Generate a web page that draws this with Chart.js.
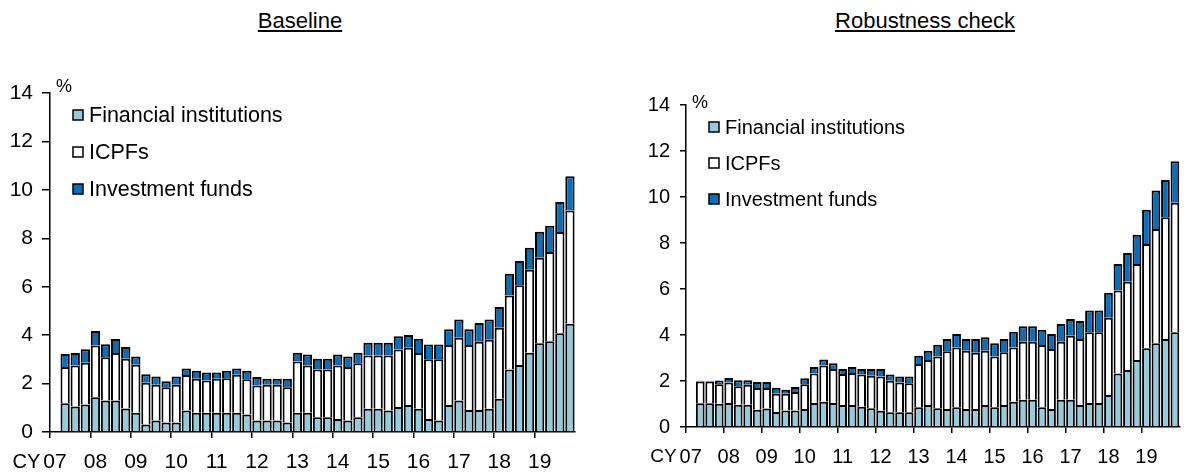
<!DOCTYPE html>
<html>
<head>
<meta charset="utf-8">
<script src="https://cdn.jsdelivr.net/npm/chart.js@4.4.1/dist/chart.umd.min.js"></script>
<style>
  body { margin: 0; background: #fff; font-family: "Liberation Sans", Arial, sans-serif; }
  .wrap { position: relative; width: 1187px; height: 475px; overflow: hidden; }
  .title { position: absolute; top: 8px; font-size: 22px; text-decoration: underline; transform: translateX(-50%); white-space: nowrap; color: #000; }
  canvas { position: absolute; top: 0; }
</style>
</head>
<body>
<div class="wrap">
  <div class="title" style="left:300px">Baseline</div>
  <div class="title" style="left:925px">Robustness check</div>
  <canvas id="left" width="600" height="475" style="left:0"></canvas>
  <canvas id="right" width="587" height="475" style="left:600px"></canvas>
</div>
<script>
// quarterly, 2007Q1 - 2019Q4 (first quarter has no data)
const yearLabels = ['07', '08', '09', '10', '11', '12', '13', '14', '15', '16', '17', '18', '19'];
const quarters = [];
yearLabels.forEach(y => ['Q1', 'Q2', 'Q3', 'Q4'].forEach(q => quarters.push(y + q)));

const seriesNames = ['Financial institutions', 'ICPFs', 'Investment funds'];

// Baseline
const baseFin = [null, 1.19, 1.05, 1.14,
  1.44, 1.30, 1.30, 0.97,  0.79, 0.31, 0.48, 0.39,  0.39, 0.89, 0.79, 0.79,
  0.79, 0.79, 0.79, 0.72,  0.48, 0.48, 0.48, 0.39,  0.79, 0.79, 0.61, 0.61,
  0.54, 0.48, 0.61, 0.96,  0.96, 0.89, 1.03, 1.11,  0.96, 0.54, 0.48, 1.11,
  1.30, 0.91, 0.91, 0.96,  1.37, 2.58, 2.77, 3.27,  3.67, 3.75, 4.08, 4.47];
const baseIcpf = [null, 1.49, 1.70, 1.72,
  2.13, 1.79, 1.96, 2.05,  1.99, 1.72, 1.47, 1.46,  1.56, 1.46, 1.41, 1.34,
  1.41, 1.43, 1.57, 1.46,  1.44, 1.47, 1.47, 1.46,  2.12, 1.96, 1.97, 1.97,
  2.21, 2.20, 2.23, 2.20,  2.20, 2.27, 2.38, 2.37,  2.30, 2.46, 2.52, 2.48,
  2.59, 2.68, 2.82, 2.85,  2.94, 3.06, 3.29, 3.43,  3.53, 3.68, 4.18, 4.68];
const baseInv = [null, 0.54, 0.51, 0.56,
  0.60, 0.53, 0.58, 0.49,  0.34, 0.35, 0.34, 0.25,  0.34, 0.27, 0.33, 0.33,
  0.26, 0.31, 0.26, 0.35,  0.35, 0.25, 0.25, 0.35,  0.36, 0.45, 0.44, 0.44,
  0.45, 0.44, 0.43, 0.53,  0.53, 0.53, 0.54, 0.53,  0.59, 0.61, 0.61, 0.65,
  0.76, 0.65, 0.77, 0.84,  0.85, 0.90, 1.00, 0.91,  1.07, 1.09, 1.24, 1.41];

// Robustness check
const robFin = [null, 1.03, 1.03, 1.01,
  1.04, 0.97, 0.97, 0.75,  0.80, 0.65, 0.72, 0.72,  0.78, 1.04, 1.10, 1.04,
  0.96, 0.96, 0.88, 0.81,  0.71, 0.64, 0.64, 0.64,  0.86, 0.96, 0.81, 0.78,
  0.86, 0.78, 0.78, 0.96,  0.86, 0.96, 1.10, 1.19,  1.19, 0.86, 0.78, 1.19,
  1.19, 0.96, 1.04, 1.04,  1.39, 2.33, 2.48, 2.91,  3.42, 3.64, 3.83, 4.12];
const robIcpf = [null, 0.95, 0.95, 0.85,
  0.89, 0.80, 0.87, 0.95,  0.90, 0.80, 0.73, 0.80,  1.08, 1.29, 1.57, 1.48,
  1.34, 1.39, 1.40, 1.42,  1.49, 1.37, 1.30, 1.26,  1.88, 1.95, 2.25, 2.51,
  2.60, 2.54, 2.45, 2.36,  2.20, 2.29, 2.36, 2.52,  2.52, 2.71, 2.61, 2.52,
  2.78, 2.87, 3.08, 3.08,  3.36, 3.60, 3.84, 4.18,  4.54, 4.97, 5.29, 5.63];
const robInv = [null, 0.03, 0.03, 0.16,
  0.20, 0.26, 0.19, 0.26,  0.26, 0.26, 0.17, 0.22,  0.26, 0.28, 0.26, 0.25,
  0.22, 0.26, 0.24, 0.29,  0.32, 0.27, 0.26, 0.30,  0.36, 0.41, 0.52, 0.54,
  0.58, 0.51, 0.60, 0.58,  0.58, 0.58, 0.68, 0.67,  0.67, 0.66, 0.65, 0.77,
  0.73, 0.78, 0.94, 0.94,  1.09, 1.16, 1.25, 1.27,  1.49, 1.67, 1.62, 1.80];

const FONT = '"Liberation Sans", Arial, sans-serif';
const colors = ['#93CDDD', '#FFFFFF', '#0070C0'];

function makeChart(id, fin, icpf, inv, cfg) {
  const extras = {
    id: 'extras',
    afterDraw(chart) {
      const ctx = chart.ctx;
      const area = chart.chartArea;
      const x = chart.scales.x;
      ctx.save();
      ctx.fillStyle = '#000';
      ctx.textBaseline = 'middle';

      // unit
      ctx.font = cfg.pctSize + 'px ' + FONT;
      ctx.textAlign = 'left';
      ctx.fillText('%', area.left + 6, area.top - cfg.pctUp);

      // CY before the first year label
      ctx.font = cfg.fontSize + 'px ' + FONT;
      const first = x.getPixelForValue(0);
      const half = ctx.measureText(yearLabels[0]).width / 2;
      ctx.font = (cfg.fontSize - 1) + 'px ' + FONT;
      ctx.textAlign = 'right';
      ctx.fillText('CY', first - half - 3, cfg.cyY);

      // legend
      ctx.font = cfg.legSize + 'px ' + FONT;
      chart.data.datasets.forEach((ds, i) => {
        const cy = area.top + cfg.legTop + i * cfg.legGap;
        const bx = area.left + 23;
        ctx.fillStyle = ds.backgroundColor;
        ctx.fillRect(bx, cy - 5, 10, 10);
        ctx.lineWidth = 1.5;
        ctx.strokeStyle = '#000';
        ctx.strokeRect(bx, cy - 5, 10, 10);
        ctx.fillStyle = '#000';
        ctx.textAlign = 'left';
        ctx.fillText(ds.label, bx + 16, cy + 1);
      });
      ctx.restore();
    }
  };

  return new Chart(document.getElementById(id), {
    type: 'bar',
    data: {
      labels: quarters,
      datasets: [
        { label: seriesNames[0], data: fin, backgroundColor: colors[0] },
        { label: seriesNames[1], data: icpf, backgroundColor: colors[1] },
        { label: seriesNames[2], data: inv, backgroundColor: colors[2] }
      ]
    },
    options: {
      responsive: false,
      animation: false,
      layout: { padding: { top: cfg.top, right: cfg.right, left: 0, bottom: 0 } },
      datasets: {
        bar: {
          borderColor: '#000',
          borderWidth: 2,
          borderSkipped: 'start',
          barPercentage: 0.92,
          categoryPercentage: 1
        }
      },
      plugins: {
        legend: { display: false },
        tooltip: { enabled: false }
      },
      scales: {
        x: {
          stacked: true,
          grid: {
            offset: true,
            drawOnChartArea: false,
            tickLength: 6,
            lineWidth: 1.5,
            color: c => (c.index % 4 === 0 ? '#000' : 'rgba(0,0,0,0)')
          },
          border: { color: '#000', width: 1.5 },
          ticks: {
            autoSkip: false,
            maxRotation: 0,
            padding: cfg.xPad,
            color: '#000',
            font: { family: FONT, size: cfg.fontSize },
            callback: (v, i) => (i % 4 === 0 ? yearLabels[i / 4] : '')
          },
          afterFit: s => { s.height = cfg.xHeight; }
        },
        y: {
          stacked: true,
          min: 0,
          max: 14,
          ticks: {
            stepSize: 2,
            padding: cfg.yPad,
            color: '#000',
            font: { family: FONT, size: cfg.fontSize }
          },
          grid: { drawOnChartArea: false, tickLength: cfg.yTick, lineWidth: 1.5, color: '#000' },
          border: { color: '#000', width: 1.5 },
          afterFit: s => { s.width = cfg.yWidth; }
        }
      }
    },
    plugins: [extras]
  });
}

makeChart('left', baseFin, baseIcpf, baseInv, {
  top: 93, right: 25, yWidth: 50, xHeight: 43, yPad: 9, yTick: 8, xPad: 12,
  fontSize: 21, legSize: 21.5, pctSize: 18, pctUp: 6, cyY: 462, legTop: 22, legGap: 37
});
makeChart('right', robFin, robIcpf, robInv, {
  top: 105, right: 7, yWidth: 86, xHeight: 48, yPad: 10, yTick: 6, xPad: 12,
  fontSize: 20, legSize: 20, pctSize: 18, pctUp: 2, cyY: 457, legTop: 22, legGap: 36
});
</script>
</body>
</html>
